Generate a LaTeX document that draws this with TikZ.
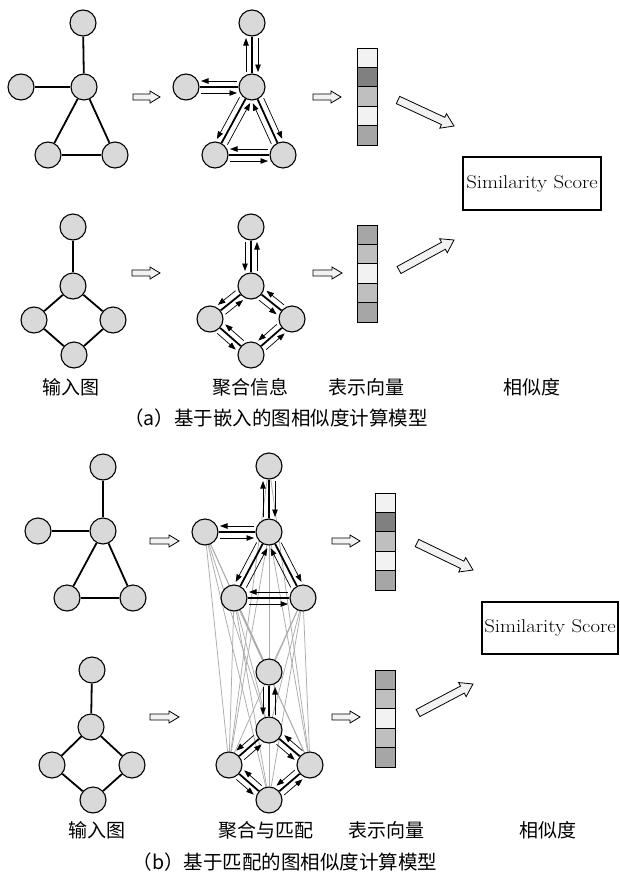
\documentclass[tikz,border=0pt]{standalone}
\usepackage{fontspec}
\newfontfamily\song{Noto Sans CJK SC}
\usetikzlibrary{calc,arrows.meta,backgrounds,positioning}

\definecolor{nodegray}{HTML}{D9D9D9}
\definecolor{matchgray}{HTML}{ABABAB}
\definecolor{arrowfill}{HTML}{F2F2F2}
\definecolor{cellA}{HTML}{F2F2F2}
\definecolor{cellB}{HTML}{808080}
\definecolor{cellC}{HTML}{BFBFBF}
\definecolor{cellD}{HTML}{A6A6A6}

% two opposite message arrows running beside the edge #1--#2
\newcommand\msgs[4]{%
  \draw[msg] ($(#1)!15pt!(#2)!6pt!#3:(#2)$) -- ($(#2)!15pt!(#1)!6pt!#4:(#1)$);
  \draw[msg] ($(#2)!15pt!(#1)!6pt!#3:(#1)$) -- ($(#1)!15pt!(#2)!6pt!#4:(#2)$);
}
% hollow block arrow from #1 to #2: half body, half head, head length
\newcommand\blockarrow[5]{%
  \draw[hollowarrow] ($(#1)!#3!90:(#2)$) -- ($(#2)!#5!(#1)!#3!-90:(#1)$)
    -- ($(#2)!#5!(#1)!#4!-90:(#1)$) -- (#2) -- ($(#2)!#5!(#1)!#4!90:(#1)$)
    -- ($(#2)!#5!(#1)!#3!90:(#1)$) -- ($(#1)!#3!-90:(#2)$) -- cycle;
}
% triangle-shaped graph: top, centre, left, bottom-left, bottom-right
\newcommand\trigraph[6]{%
  \node[gnode] (#1-1) at #2 {};
  \node[gnode] (#1-2) at #3 {};
  \node[gnode] (#1-3) at #4 {};
  \node[gnode] (#1-4) at #5 {};
  \node[gnode] (#1-5) at #6 {};
  \draw[gedge] (#1-1) -- (#1-2);
  \draw[gedge] (#1-3) -- (#1-2);
  \draw[gedge] (#1-2) -- (#1-4);
  \draw[gedge] (#1-2) -- (#1-5);
  \draw[gedge] (#1-4) -- (#1-5);
}
% diamond-shaped graph: top, centre, left, right, bottom
\newcommand\diagraph[6]{%
  \node[gnode] (#1-1) at #2 {};
  \node[gnode] (#1-2) at #3 {};
  \node[gnode] (#1-3) at #4 {};
  \node[gnode] (#1-4) at #5 {};
  \node[gnode] (#1-5) at #6 {};
  \draw[gedge] (#1-1) -- (#1-2);
  \draw[gedge] (#1-2) -- (#1-3);
  \draw[gedge] (#1-2) -- (#1-4);
  \draw[gedge] (#1-3) -- (#1-5);
  \draw[gedge] (#1-4) -- (#1-5);
}
\newcommand\trimsgs[1]{%
  \msgs{#1-1}{#1-2}{90}{-90}
  \msgs{#1-3}{#1-2}{-90}{90}
  \msgs{#1-2}{#1-4}{-90}{90}
  \msgs{#1-2}{#1-5}{90}{-90}
  \msgs{#1-4}{#1-5}{-90}{90}
}
\newcommand\diamsgs[1]{%
  \msgs{#1-1}{#1-2}{-90}{90}
  \msgs{#1-2}{#1-3}{-90}{90}
  \msgs{#1-2}{#1-4}{-90}{90}
  \msgs{#1-3}{#1-5}{-90}{90}
  \msgs{#1-4}{#1-5}{-90}{90}
}
\newcommand\scoretext{\scalebox{1.12}[1]{Similarity Score}}

\begin{document}
\begin{tikzpicture}[x=1pt, y=-1pt,
  gnode/.style={circle, draw=black, line width=1.1pt, fill=nodegray,
    minimum size=26pt, inner sep=0pt},
  gedge/.style={line width=1.8pt},
  msg/.style={line width=0.7pt, -{Triangle[length=7.5pt,width=5.5pt]}},
  match/.style={draw=matchgray, line width=0.75pt},
  cell/.style={draw=black, line width=0.9pt, minimum width=20pt,
    minimum height=19.4pt, inner sep=0pt, outer sep=0pt},
  hollowarrow/.style={draw=black, line width=0.8pt, fill=arrowfill, line join=miter},
  lab/.style={font=\song\fontsize{19}{19}\selectfont, inner sep=0pt},
  capt/.style={font=\song\fontsize{19.5}{19.5}\selectfont, inner sep=0pt},
  scorebox/.style={draw=black, line width=1.3pt, inner sep=0pt,
    font=\fontsize{18.5}{18.5}\selectfont}]
\useasboundingbox (0,0) rectangle (620,881);

% ---------------- (a) embedding based model ----------------
\trigraph{ga}{(83,23)}{(84,87)}{(21,87)}{(48,155)}{(115,155)}
\trigraph{ma}{(252,23)}{(252,87)}{(186,87)}{(215,155)}{(283,155)}
\trimsgs{ma}
\diagraph{gb}{(73,227)}{(73,286)}{(34,320)}{(113,320)}{(74,355)}
\diagraph{mb}{(251,227)}{(251,286)}{(210,319)}{(292,319)}{(251,355)}
\diamsgs{mb}

% vectors
\node[cell, fill=cellA] (va-1) at (367,57.8) {};
\node[cell, fill=cellB, below=0pt of va-1] (va-2) {};
\node[cell, fill=cellC, below=0pt of va-2] (va-3) {};
\node[cell, fill=cellA, below=0pt of va-3] (va-4) {};
\node[cell, fill=cellD, below=0pt of va-4] (va-5) {};
\node[cell, fill=cellD] (vb-1) at (367,234.7) {};
\node[cell, fill=cellC, below=0pt of vb-1] (vb-2) {};
\node[cell, fill=cellA, below=0pt of vb-2] (vb-3) {};
\node[cell, fill=cellC, below=0pt of vb-3] (vb-4) {};
\node[cell, fill=cellD, below=0pt of vb-4] (vb-5) {};

\node[scorebox, minimum width=138pt, minimum height=53pt] (sa) at (532,183.5) {\scoretext};

% block arrows
\coordinate (a1s) at (133,97);  \coordinate (a1e) at (160,97);
\coordinate (a2s) at (313,97);  \coordinate (a2e) at (341,97);
\coordinate (a3s) at (132,273); \coordinate (a3e) at (160,273);
\coordinate (a4s) at (313,273); \coordinate (a4e) at (342,273);
\coordinate (a5s) at (398,100); \coordinate (a5e) at (454,126);
\coordinate (a6s) at (399,270); \coordinate (a6e) at (454,240);
\blockarrow{a1s}{a1e}{3pt}{6pt}{10pt}
\blockarrow{a2s}{a2e}{3pt}{6pt}{10pt}
\blockarrow{a3s}{a3e}{3pt}{6pt}{10pt}
\blockarrow{a4s}{a4e}{3pt}{6pt}{10pt}
\blockarrow{a5s}{a5e}{4pt}{8pt}{12pt}
\blockarrow{a6s}{a6e}{4pt}{8pt}{12pt}

\node[lab] (la1) at (71,387) {输入图};
\node[lab] (la2) at (250,387) {聚合信息};
\node[lab] (la3) at (366,387) {表示向量};
\node[lab] (la4) at (532,387) {相似度};
\node[capt] (ca) at (276,418) {（a）基于嵌入的图相似度计算模型};

% ---------------- (b) matching based model ----------------
\trigraph{gc}{(103,467)}{(103,531)}{(38,531)}{(67,598)}{(133,598)}
\diagraph{gd}{(92,670)}{(91,727)}{(52,765)}{(132,765)}{(93,800)}
\trigraph{mc}{(269,466)}{(269,532)}{(205,532)}{(234,598)}{(303,598)}
\diagraph{md}{(269,672)}{(269,730)}{(229,765)}{(310,765)}{(269,800)}
% cross-graph matching lines
\begin{scope}[on background layer]
  \foreach \i in {1,...,5}
    \foreach \j in {1,...,5}
      \draw[match] (mc-\i) -- (md-\j);
\end{scope}
\trimsgs{mc}
\diamsgs{md}

\node[cell, fill=cellA] (vc-1) at (385,502.7) {};
\node[cell, fill=cellB, below=0pt of vc-1] (vc-2) {};
\node[cell, fill=cellC, below=0pt of vc-2] (vc-3) {};
\node[cell, fill=cellA, below=0pt of vc-3] (vc-4) {};
\node[cell, fill=cellD, below=0pt of vc-4] (vc-5) {};
\node[cell, fill=cellD] (vd-1) at (385,679.7) {};
\node[cell, fill=cellC, below=0pt of vd-1] (vd-2) {};
\node[cell, fill=cellA, below=0pt of vd-2] (vd-3) {};
\node[cell, fill=cellC, below=0pt of vd-3] (vd-4) {};
\node[cell, fill=cellD, below=0pt of vd-4] (vd-5) {};

\node[scorebox, minimum width=136pt, minimum height=52pt] (sb) at (550,628) {\scoretext};

\coordinate (b1s) at (150,541); \coordinate (b1e) at (179,541);
\coordinate (b2s) at (332,541); \coordinate (b2e) at (360,541);
\coordinate (b3s) at (150,717); \coordinate (b3e) at (179,717);
\coordinate (b4s) at (332,717); \coordinate (b4e) at (360,717);
\coordinate (b5s) at (417,543); \coordinate (b5e) at (473,570);
\coordinate (b6s) at (418,713); \coordinate (b6e) at (473,684);
\blockarrow{b1s}{b1e}{3pt}{6pt}{10pt}
\blockarrow{b2s}{b2e}{3pt}{6pt}{10pt}
\blockarrow{b3s}{b3e}{3pt}{6pt}{10pt}
\blockarrow{b4s}{b4e}{3pt}{6pt}{10pt}
\blockarrow{b5s}{b5e}{4pt}{8pt}{12pt}
\blockarrow{b6s}{b6e}{4pt}{8pt}{12pt}

\node[lab] (lb1) at (97,830) {输入图};
\node[lab] (lb2) at (266,830) {聚合与匹配};
\node[lab] (lb3) at (386,830) {表示向量};
\node[lab] (lb4) at (548,830) {相似度};
\node[capt] (cb) at (285,862) {（b）基于匹配的图相似度计算模型};
\end{tikzpicture}
\end{document}
